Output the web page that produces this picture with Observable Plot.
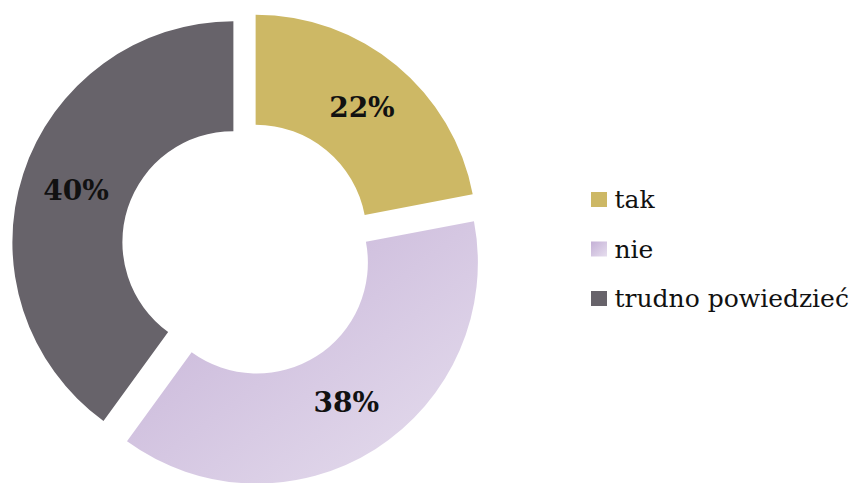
<!DOCTYPE html>
<html><head><meta charset="utf-8">
<script src="https://cdn.jsdelivr.net/npm/d3@7"></script>
<script src="https://cdn.jsdelivr.net/npm/@observablehq/plot@0.6"></script>
<style>html,body{margin:0;padding:0;background:#fff} svg{display:block}</style>
</head><body><div id="chart"></div>
<script>
const categories = ["tak", "nie", "trudno powiedzieć"];
const values = [22, 38, 40];
const labels = ["22%", "38%", "40%"];
const fills = ["#cdb865", "url(#nieGrad)", "#67636a"];
const swatchFills = ["#cdb865", "url(#nieGradL)", "#67636a"];

// layout
const W = 851, H = 483;
const cx = 246.7, cy = 246.5, R = 221, r0 = 111;
const explodeBy = {"tak": 14, "nie": 19, "trudno powiedzieć": 14};
const labelR = 166;
const legendX = 591, legendY0 = 199.5, legendStep = 49.5, sw = 16;

const data = categories.map((c, i) => ({category: c, value: values[i], label: labels[i], fill: fills[i], swatch: swatchFills[i], i}));
const arcs = d3.pie().sort(null).value(d => d.value)(data);
arcs.forEach(a => {
  const mid = (a.startAngle + a.endAngle) / 2;
  const e = explodeBy[a.data.category];
  a.ox = cx + Math.sin(mid) * e;
  a.oy = cy - Math.cos(mid) * e;
  a.lx = a.ox + Math.sin(mid) * labelR;
  a.ly = a.oy - Math.cos(mid) * labelR;
});
const legend = data.map(d => ({...d, yc: legendY0 + d.i * legendStep}));

const arcGen = d3.arc().innerRadius(r0).outerRadius(R);

function slices(index, scales) {
  const g = d3.create("svg:g");
  const defs = g.append("defs");
  const grad = (id) => {
    const lg = defs.append("linearGradient").attr("id", id)
      .attr("x1", 0).attr("y1", 0).attr("x2", 1).attr("y2", 1);
    lg.append("stop").attr("offset", "0%").attr("stop-color", "#c4b0d6");
    lg.append("stop").attr("offset", "100%").attr("stop-color", "#e6deee");
  };
  grad("nieGrad"); grad("nieGradL");
  const sx = scales.x || (v => v), sy = scales.y || (v => v);
  g.selectAll("path").data(arcs).join("path")
    .attr("d", arcGen)
    .attr("transform", a => `translate(${sx(a.ox)},${sy(a.oy)})`)
    .attr("fill", a => a.data.fill);
  return g.node();
}

const chart = Plot.plot({
  width: W, height: H,
  margin: 0,
  x: {type: "identity", axis: null},
  y: {type: "identity", axis: null},
  color: {type: "identity"},
  style: {background: "#fff", fontFamily: "DejaVu Serif"},
  marks: [
    slices,
    Plot.text(arcs, {x: "lx", y: "ly", text: a => a.data.label, fontSize: 28, fontWeight: "bold", fill: "#111", fontFamily: "DejaVu Serif"}),
    Plot.rect(legend, {x1: () => legendX, x2: () => legendX + sw, y1: d => d.yc - sw / 2 + 0.5, y2: d => d.yc + sw / 2 - 0.5, fill: "swatch"}),
    Plot.text(legend, {x: () => legendX + sw + 7, y: "yc", text: "category", textAnchor: "start", fontSize: 25, fill: "#111", fontFamily: "DejaVu Serif"})
  ]
});
document.getElementById("chart").append(chart);
</script>
</body></html>
